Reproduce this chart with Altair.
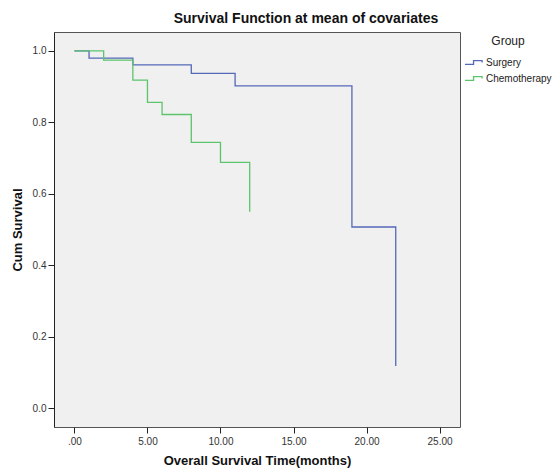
import altair as alt
import pandas as pd

surgery_time = [0, 1, 4, 8, 11, 19, 22]
surgery_surv = [1.0, 0.980, 0.961, 0.937, 0.902, 0.507, 0.118]
chemo_time = [0, 2, 4, 5, 6, 8, 10, 12]
chemo_surv = [1.0, 0.974, 0.918, 0.856, 0.822, 0.744, 0.688, 0.550]
groups = ["Surgery", "Chemotherapy"]
colors = ["#5468b8", "#5cc46c"]

rows = []
for t, s in zip(surgery_time, surgery_surv):
    rows.append({"time": t, "surv": s, "group": "Surgery"})
for t, s in zip(chemo_time, chemo_surv):
    rows.append({"time": t, "surv": s, "group": "Chemotherapy"})
df = pd.DataFrame(rows)

FONT = "Liberation Sans"

chart = alt.Chart(df).mark_line(interpolate="step-after", strokeWidth=1.3, clip=True).encode(
    x=alt.X("time:Q",
            scale=alt.Scale(domain=[-1.4, 26.4], nice=False, zero=False),
            axis=alt.Axis(values=[0, 5, 10, 15, 20, 25], grid=False, domain=False,
                          labelExpr="datum.value == 0 ? '.00' : format(datum.value, '.2f')",
                          tickSize=6, tickColor="#222", labelColor="#333", labelFontSize=10,
                          labelFont=FONT, labelPadding=3,
                          title="Overall Survival Time(months)", titleFont=FONT,
                          titleFontSize=13, titleFontWeight="bold", titleColor="#111",
                          titlePadding=8)),
    y=alt.Y("surv:Q",
            scale=alt.Scale(domain=[-0.053, 1.053], nice=False, zero=False),
            axis=alt.Axis(values=[0, 0.2, 0.4, 0.6, 0.8, 1.0], format=".1f", grid=False,
                          domain=True, domainColor="#222",
                          tickSize=6, tickColor="#222", labelColor="#333", labelFontSize=10,
                          labelFont=FONT, labelPadding=2,
                          title="Cum Survival", titleFont=FONT,
                          titleFontSize=13, titleFontWeight="bold", titleColor="#111",
                          titlePadding=8)),
    color=alt.Color("group:N",
                    scale=alt.Scale(domain=groups, range=colors),
                    legend=alt.Legend(title="Group", orient="none", legendX=410, legendY=4,
                                      titleFont=FONT, titleFontSize=12, titleFontWeight="normal",
                                      titleColor="#222", titleAnchor="middle", titlePadding=4,
                                      labelFont=FONT, labelFontSize=10, labelColor="#222",
                                      symbolType="M-1,0.2 L-0.1,0.2 L-0.1,-0.2 L0.8,-0.2 L0.8,0",
                                      symbolStrokeWidth=1.3, symbolSize=360, symbolOffset=0,
                                      labelOffset=1, rowPadding=-6)),
).properties(
    width=406,
    height=395,
    title=alt.TitleParams("Survival Function at mean of covariates", font=FONT, fontSize=14,
                          fontWeight="bold", color="#111", anchor="middle", dx=49, offset=6),
    autosize=alt.AutoSizeParams(type="none"),
    padding={"left": 54, "top": 32, "right": 96, "bottom": 46},
    background="white",
).configure_view(
    fill="#f0f0f0", stroke="#555", strokeWidth=1
)

chart.save("out.html", embed_options={"renderer": "svg", "actions": False})
